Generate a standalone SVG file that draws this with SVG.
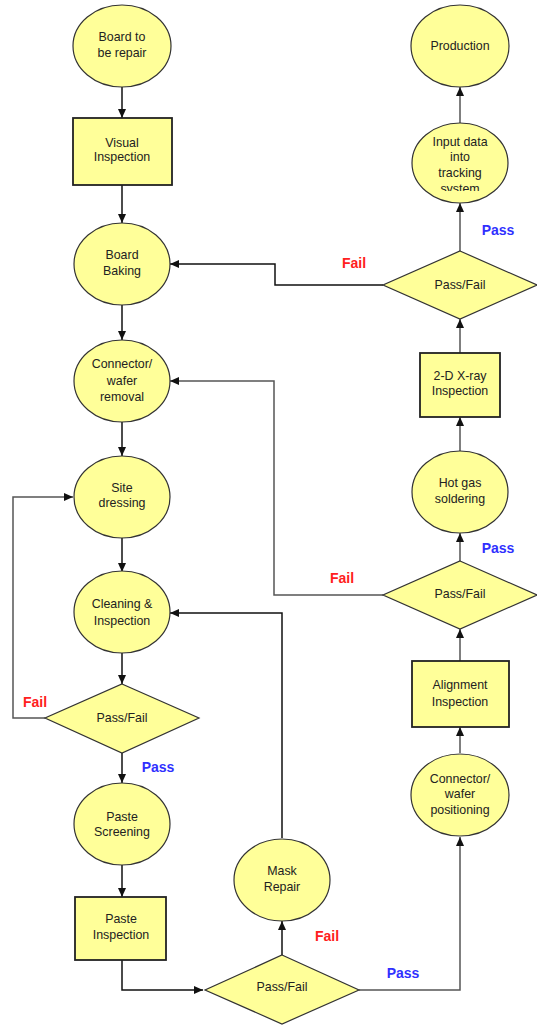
<svg xmlns="http://www.w3.org/2000/svg" width="537" height="1025" viewBox="0 0 537 1025">
<style>
.n{fill:#ffff99;stroke:#333;stroke-width:1.2}
.r{fill:#ffff99;stroke:#222;stroke-width:1.8}
.t{font-family:"Liberation Sans",Arial,sans-serif;font-size:12.4px;fill:#222;text-anchor:middle}
.c{fill:none;stroke:#111;stroke-width:1.5}
.g{fill:none;stroke:#555;stroke-width:1.5}
.fail{font-family:"Liberation Sans",Arial,sans-serif;font-size:14px;font-weight:bold;fill:#ff2020;text-anchor:middle}
.pass{font-family:"Liberation Sans",Arial,sans-serif;font-size:14px;font-weight:bold;fill:#3030ff;text-anchor:middle}
</style>
<defs>
<marker id="a" markerUnits="userSpaceOnUse" markerWidth="9" markerHeight="8" refX="9" refY="4" orient="auto"><path d="M0,0 L9,4 L0,8 z" fill="#111"/></marker>
<clipPath id="clipIn"><rect x="400" y="120" width="120" height="71"/></clipPath>
</defs>
<rect width="537" height="1025" fill="#fff"/>
<g id="connectors">
<path class="c" d="M122,87 V118" marker-end="url(#a)"/>
<path class="c" d="M122,185 V223" marker-end="url(#a)"/>
<path class="c" d="M122,305 V340" marker-end="url(#a)"/>
<path class="c" d="M122,422 V456" marker-end="url(#a)"/>
<path class="c" d="M122,537 V572" marker-end="url(#a)"/>
<path class="c" d="M122,653 V684" marker-end="url(#a)"/>
<path class="c" d="M122,753 V783" marker-end="url(#a)"/>
<path class="c" d="M122,865 V897" marker-end="url(#a)"/>
<path class="c" d="M122,960 V990 H203" marker-end="url(#a)"/>
<path class="g" d="M45,718 H13 V497 H73" marker-end="url(#a)"/>
<path class="c" d="M282,955 V921" marker-end="url(#a)"/>
<path class="c" d="M282,838 V613 H170" marker-end="url(#a)"/>
<path class="g" d="M359,990 H460 V837" marker-end="url(#a)"/>
<path class="g" d="M460,753 V727" marker-end="url(#a)"/>
<path class="g" d="M460,661 V629" marker-end="url(#a)"/>
<path class="g" d="M460,561 V533" marker-end="url(#a)"/>
<path class="g" d="M460,452 V417" marker-end="url(#a)"/>
<path class="g" d="M460,353 V319" marker-end="url(#a)"/>
<path class="g" d="M460,251 V203" marker-end="url(#a)"/>
<path class="g" d="M460,123 V87" marker-end="url(#a)"/>
<path class="g" d="M383,595 H274 V381 H170" marker-end="url(#a)"/>
<path class="c" d="M383,285 H275 V264 H170" marker-end="url(#a)"/>
</g>
<g id="labels">
<text class="fail" x="354" y="268">Fail</text>
<text class="pass" x="498" y="235">Pass</text>
<text class="fail" x="342" y="583">Fail</text>
<text class="pass" x="498" y="553">Pass</text>
<text class="fail" x="35" y="707">Fail</text>
<text class="pass" x="158" y="772">Pass</text>
<text class="fail" x="327" y="941">Fail</text>
<text class="pass" x="403" y="978">Pass</text>
</g>
<g id="board-to-repair"><ellipse class="n" cx="122" cy="46" rx="49" ry="41"/><text class="t" x="122" y="41">Board to</text><text class="t" x="122" y="57">be repair</text></g>
<g id="visual-inspection"><rect class="r" x="73" y="118" width="99" height="67"/><text class="t" x="122" y="147">Visual</text><text class="t" x="122" y="161">Inspection</text></g>
<g id="board-baking"><ellipse class="n" cx="122" cy="264" rx="48" ry="41"/><text class="t" x="122" y="259">Board</text><text class="t" x="122" y="275">Baking</text></g>
<g id="connector-removal"><ellipse class="n" cx="122" cy="381" rx="48" ry="41"/><text class="t" x="122" y="368">Connector/</text><text class="t" x="122" y="385">wafer</text><text class="t" x="122" y="401">removal</text></g>
<g id="site-dressing"><ellipse class="n" cx="122" cy="497" rx="48" ry="41"/><text class="t" x="122" y="492">Site</text><text class="t" x="122" y="507">dressing</text></g>
<g id="cleaning-inspection"><ellipse class="n" cx="122" cy="612" rx="48" ry="41"/><text class="t" x="122" y="608">Cleaning &amp;</text><text class="t" x="122" y="625">Inspection</text></g>
<g id="decision-1"><polygon class="n" points="122,684 199,718 122,753 45,718"/><text class="t" x="122" y="722">Pass/Fail</text></g>
<g id="paste-screening"><ellipse class="n" cx="122" cy="824" rx="48" ry="41"/><text class="t" x="122" y="821">Paste</text><text class="t" x="122" y="836">Screening</text></g>
<g id="paste-inspection"><rect class="r" x="75" y="897" width="91" height="63"/><text class="t" x="121" y="923">Paste</text><text class="t" x="121" y="939">Inspection</text></g>
<g id="decision-bottom"><polygon class="n" points="282,955 359,990 282,1024 205,990"/><text class="t" x="282" y="991">Pass/Fail</text></g>
<g id="mask-repair"><ellipse class="n" cx="282" cy="880" rx="48" ry="41"/><text class="t" x="282" y="875">Mask</text><text class="t" x="282" y="891">Repair</text></g>
<g id="connector-positioning"><ellipse class="n" cx="460" cy="795" rx="49" ry="41"/><text class="t" x="460" y="783">Connector/</text><text class="t" x="460" y="798">wafer</text><text class="t" x="460" y="814">positioning</text></g>
<g id="alignment-inspection"><rect class="r" x="412" y="661" width="97" height="66"/><text class="t" x="460" y="689">Alignment</text><text class="t" x="460" y="706">Inspection</text></g>
<g id="decision-2"><polygon class="n" points="460,561 537,595 460,629 383,595"/><text class="t" x="460" y="598">Pass/Fail</text></g>
<g id="hot-gas-soldering"><ellipse class="n" cx="460" cy="492" rx="48" ry="41"/><text class="t" x="460" y="487">Hot gas</text><text class="t" x="460" y="503">soldering</text></g>
<g id="xray-inspection"><rect class="r" x="420" y="353" width="80" height="64"/><text class="t" x="460" y="380">2-D X-ray</text><text class="t" x="460" y="395">Inspection</text></g>
<g id="decision-3"><polygon class="n" points="460,251 537,285 460,319 383,285"/><text class="t" x="460" y="289">Pass/Fail</text></g>
<g id="input-data"><ellipse class="n" cx="460" cy="163" rx="48" ry="40"/><g clip-path="url(#clipIn)"><text class="t" x="460" y="146">Input data</text><text class="t" x="460" y="161">into</text><text class="t" x="460" y="177">tracking</text><text class="t" x="460" y="193">system</text></g></g>
<g id="production"><ellipse class="n" cx="460" cy="46" rx="49" ry="41"/><text class="t" x="460" y="50">Production</text></g>
</svg>
